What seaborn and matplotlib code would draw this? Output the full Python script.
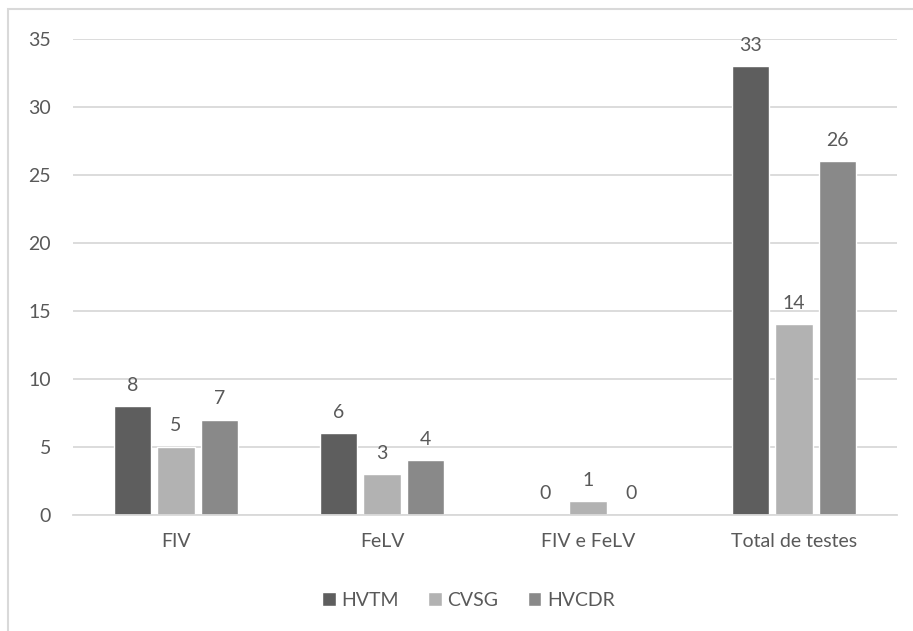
import pandas as pd
import seaborn as sns
import matplotlib.pyplot as plt
from matplotlib.patches import Rectangle

# Data
categories = ["FIV", "FeLV", "FIV e FeLV", "Total de testes"]
groups = ["HVTM", "CVSG", "HVCDR"]
hvtm = [8, 6, 0, 33]
cvsg = [5, 3, 1, 14]
hvcdr = [7, 4, 0, 26]

colors = ["#5e5e5e", "#b2b2b2", "#898989"]
text_color = "#595959"

df = pd.DataFrame(
    {
        "category": categories * 3,
        "group": [g for g in groups for _ in categories],
        "value": hvtm + cvsg + hvcdr,
    }
)

sns.set_style("white")
plt.rcParams["font.family"] = ["Lato", "DejaVu Sans"]

fig = plt.figure(figsize=(9.13, 6.31), dpi=100)
ax = fig.add_axes([0.080, 0.184, 0.9025, 0.7545])

sns.barplot(
    df,
    x="category",
    y="value",
    hue="group",
    palette=colors,
    width=0.63,
    gap=0.14,
    ax=ax,
    legend=True,
)

# Value labels
for container in ax.containers:
    ax.bar_label(container, padding=9, fontsize=14, color=text_color)

# Format
ax.set_ylim(0, 35)
ax.set_yticks(range(0, 36, 5))
ax.set_xlim(-0.5, 3.5)
ax.set_xlabel("")
ax.set_ylabel("")
ax.yaxis.grid(True, color="#d9d9d9", linewidth=1.3)
ax.set_axisbelow(True)
for side in ["top", "right", "left"]:
    ax.spines[side].set_visible(False)
ax.spines["bottom"].set_color("#d9d9d9")
ax.spines["bottom"].set_linewidth(1.3)
ax.tick_params(axis="both", length=0, labelsize=14, labelcolor=text_color)
ax.tick_params(axis="y", pad=16)
ax.tick_params(axis="x", pad=13)

# Legend at bottom
handles, labels = ax.get_legend_handles_labels()
ax.legend_.remove()
fig.legend(
    handles,
    labels,
    loc="center",
    bbox_to_anchor=(0.513, 0.049),
    bbox_transform=fig.transFigure,
    ncol=3,
    frameon=False,
    fontsize=14,
    labelcolor=text_color,
    handlelength=0.7,
    handleheight=0.7,
    handletextpad=0.3,
    columnspacing=1.5,
)

# Chart border (cropped at right and bottom)
fig.patches.append(
    Rectangle(
        (8 / 913, -0.1),
        1.2,
        (631 - 9) / 631 + 0.1,
        transform=fig.transFigure,
        fill=False,
        edgecolor="#d9d9d9",
        linewidth=1.5,
    )
)

fig.savefig("out.png", dpi=100)
